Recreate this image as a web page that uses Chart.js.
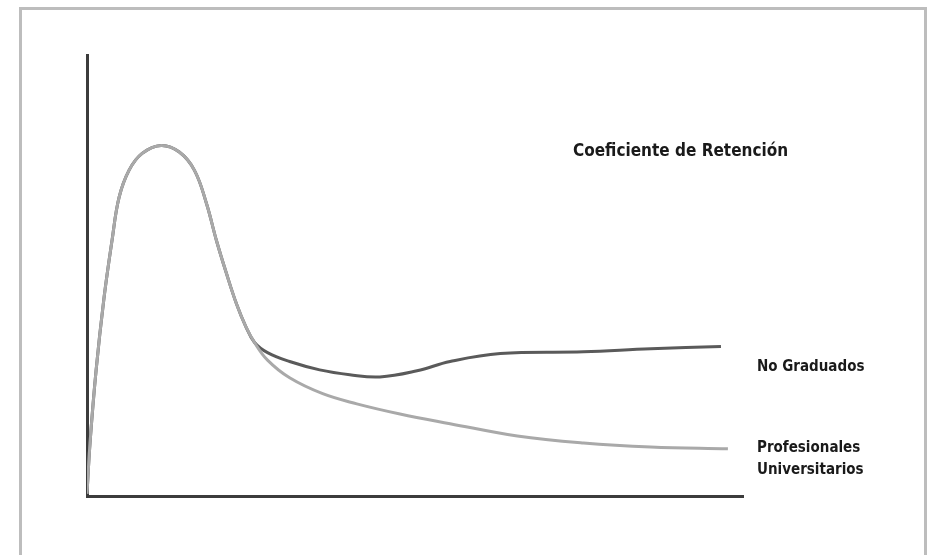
<!DOCTYPE html>
<html>
<head>
<meta charset="utf-8">
<script src="https://cdn.jsdelivr.net/npm/chart.js@4.4.1/dist/chart.umd.min.js"></script>
<style>
  html, body { margin: 0; padding: 0; background: #fff; }
  #wrap { position: relative; width: 933px; height: 555px; overflow: hidden; }
  #frame {
    position: absolute; left: 19px; top: 7px; width: 908px; height: 570px;
    border: 3px solid #bdbdbd; box-sizing: border-box;
  }
  canvas { position: absolute; left: 0; top: 0; }
</style>
</head>
<body>
<div id="wrap">
  <div id="frame"></div>
  <canvas id="chart" width="933" height="555"></canvas>
</div>
<script>
// Shared rise and fall (both groups follow the same curve here)
const sharedX = [0, 0.46, 1.38, 2.6, 3.82, 4.89, 6.42, 8.41, 11.31, 14.07, 16.36, 18.2, 19.72, 21.25, 22.78, 24.16, 25.54];
const sharedY = [0.5, 12.0, 28.4, 45.0, 58.0, 67.7, 73.9, 77.7, 79.5, 78.0, 73.9, 66.4, 58.0, 50.5, 43.6, 38.6, 34.8];

// No Graduados after the split
const noGradX = [27.52, 30.89, 35.47, 40.06, 44.65, 50.31, 55.35, 63.0, 75.69, 85.93, 96.64];
const noGradY = [32.5, 30.5, 28.6, 27.5, 27.0, 28.4, 30.5, 32.3, 32.7, 33.4, 33.9];

// Profesionales Universitarios after the split
const profX = [27.52, 30.89, 35.93, 41.13, 47.71, 55.35, 65.6, 75.69, 85.93, 97.7];
const profY = [30.8, 26.8, 23.2, 20.9, 18.6, 16.4, 13.6, 12.0, 11.1, 10.7];

const toPoints = (xs, ys) => xs.map((x, i) => ({ x: x, y: ys[i] }));

const labels = [
  { text: "Coeficiente de Retención", x: 573, y: 152, size: 17 },
  { text: "No Graduados", x: 757, y: 367, size: 15 },
  { text: "Profesionales", x: 757, y: 448, size: 15 },
  { text: "Universitarios", x: 757, y: 470, size: 15 },
];

// draws the text notes on the canvas
const notesPlugin = {
  id: "notes",
  afterDraw(chart) {
    const ctx = chart.ctx;
    ctx.save();
    ctx.fillStyle = "#1a1a1a";
    ctx.textBaseline = "middle";
    labels.forEach((l) => {
      ctx.font = "bold " + l.size + "px 'Liberation Sans Narrow', 'DejaVu Sans Condensed', sans-serif";
      ctx.fillText(l.text, l.x, l.y);
    });
    ctx.restore();
  },
};

new Chart(document.getElementById("chart"), {
  type: "line",
  data: {
    datasets: [
      {
        label: "Profesionales Universitarios",
        data: toPoints(sharedX.concat(profX), sharedY.concat(profY)),
        borderColor: "#a9a9a9",
        borderWidth: 3,
        pointRadius: 0,
        tension: 0.4,
      },
      {
        label: "No Graduados",
        data: toPoints(sharedX.concat(noGradX), sharedY.concat(noGradY)),
        borderColor: "#5a5a5a",
        borderWidth: 3,
        pointRadius: 0,
        tension: 0.4,
      },
    ],
  },
  options: {
    responsive: false,
    animation: false,
    layout: { padding: { left: 87, right: 190, top: 55, bottom: 59 } },
    plugins: { legend: { display: false }, tooltip: { enabled: false } },
    scales: {
      x: {
        type: "linear",
        min: 0,
        max: 100,
        ticks: { display: false },
        grid: { display: false, drawTicks: false },
        border: { color: "#3c3c3c", width: 3 },
      },
      y: {
        min: 0,
        max: 100,
        ticks: { display: false },
        grid: { display: false, drawTicks: false },
        border: { color: "#3c3c3c", width: 3 },
      },
    },
  },
  plugins: [notesPlugin],
});
</script>
</body>
</html>
